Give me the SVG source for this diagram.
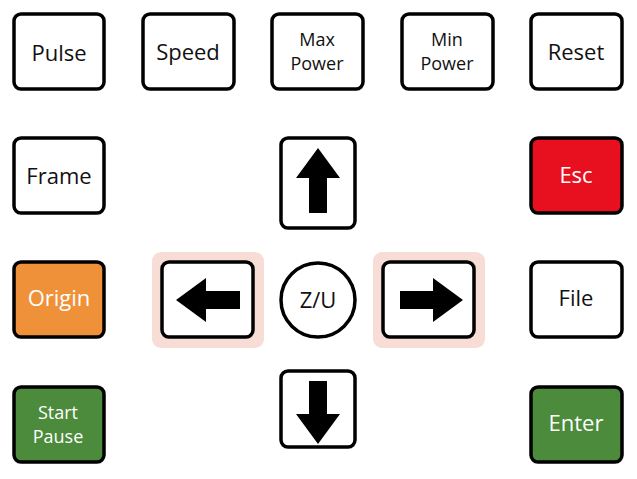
<svg xmlns="http://www.w3.org/2000/svg" width="637" height="479" viewBox="0 0 637 479">
<style>
.k{fill:#fff;stroke:#000;stroke-width:3.5}
.t{font-family:"Open Sans","Noto Sans",sans-serif;font-size:22px;font-weight:500;text-anchor:middle;fill:#111}
.s{font-size:18px}
.w{fill:#fff}
.hl{fill:#f7ddd6}
</style>
<rect width="637" height="479" fill="#fff"/>
<g id="pulse"><rect class="k" x="14" y="14" width="90" height="75" rx="7"/><text class="t" x="59" y="61">Pulse</text></g>
<g id="speed"><rect class="k" x="143" y="14" width="91" height="75" rx="7"/><text class="t" x="188" y="60">Speed</text></g>
<g id="maxpower"><rect class="k" x="272" y="14" width="91" height="75" rx="7"/><text class="t s" x="317" y="46">Max</text><text class="t s" x="317" y="70">Power</text></g>
<g id="minpower"><rect class="k" x="402" y="14" width="91" height="75" rx="7"/><text class="t s" x="447" y="46">Min</text><text class="t s" x="447" y="70">Power</text></g>
<g id="reset"><rect class="k" x="531" y="14" width="91" height="75" rx="7"/><text class="t" x="576" y="60">Reset</text></g>
<g id="frame"><rect class="k" x="14" y="138" width="90" height="75" rx="7"/><text class="t" x="59" y="184">Frame</text></g>
<g id="up"><rect class="k" x="281" y="138" width="74" height="90" rx="7"/><path d="M318 148 L340 178 L327 178 L327 213 L309 213 L309 178 L296 178 Z"/></g>
<g id="esc"><rect class="k" x="531" y="138" width="91" height="75" rx="7" style="fill:#e8101f"/><text class="t w" x="576" y="183">Esc</text></g>
<g id="origin"><rect class="k" x="14" y="262" width="90" height="75" rx="7" style="fill:#ef9139"/><text class="t w" x="59" y="306">Origin</text></g>
<g id="left"><rect class="hl" x="152" y="252" width="112" height="96" rx="9"/><rect class="k" x="162" y="262" width="91" height="75" rx="7"/><path d="M176 300 L206 278 L206 291 L240 291 L240 309 L206 309 L206 322 Z"/></g>
<g id="zu"><circle class="k" cx="318" cy="300" r="37"/><text class="t" x="318" y="308">Z/U</text></g>
<g id="right"><rect class="hl" x="373" y="252" width="112" height="96" rx="9"/><rect class="k" x="383" y="262" width="91" height="75" rx="7"/><path d="M463 300 L433 278 L433 291 L400 291 L400 309 L433 309 L433 322 Z"/></g>
<g id="file"><rect class="k" x="531" y="262" width="91" height="75" rx="7"/><text class="t" x="576" y="306">File</text></g>
<g id="startpause"><rect class="k" x="14" y="387" width="90" height="75" rx="7" style="fill:#4b8b3b"/><text class="t s w" x="58" y="419">Start</text><text class="t s w" x="58" y="443">Pause</text></g>
<g id="down"><rect class="k" x="281" y="371" width="74" height="76" rx="7"/><path d="M318 444 L340 414 L327 414 L327 381 L309 381 L309 414 L296 414 Z"/></g>
<g id="enter"><rect class="k" x="531" y="387" width="91" height="75" rx="7" style="fill:#4b8b3b"/><text class="t w" x="576" y="431">Enter</text></g>
<g id="connectors"/>
</svg>
